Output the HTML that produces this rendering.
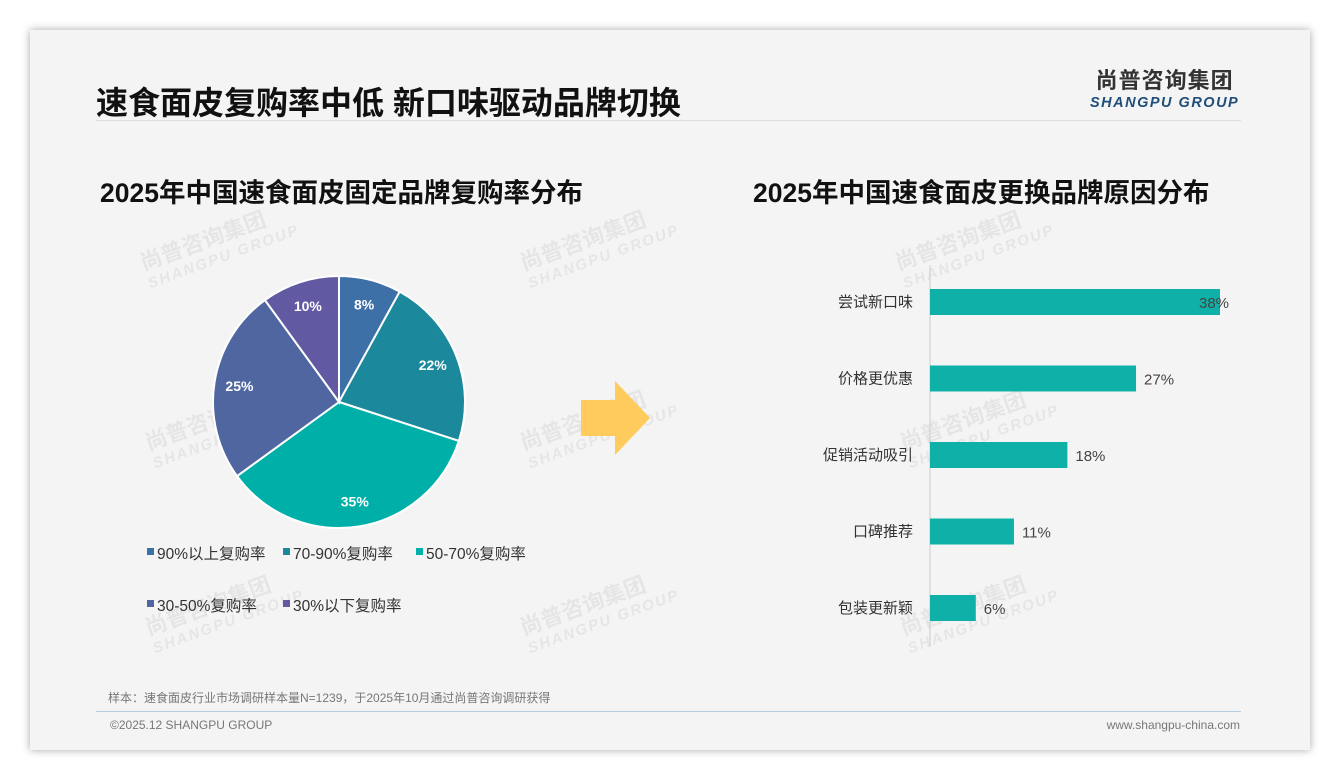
<!DOCTYPE html>
<html><head><meta charset="utf-8"><style>
body{margin:0;width:1340px;height:780px;background:#fff;position:relative;overflow:hidden;font-family:"Liberation Sans","Noto Sans CJK SC",sans-serif}
.slide{position:absolute;left:30px;top:30px;width:1280px;height:720px;background:#f4f4f4;box-shadow:0 0 8px rgba(0,0,0,.35)}
.abs{position:absolute}
.wm{position:absolute;color:rgba(0,0,0,.06);font-weight:bold;transform:rotate(-20deg);font-size:22px;line-height:22px}
.wm small{display:block;font-size:15px;letter-spacing:2px;font-style:italic}
</style></head><body>
<div class="slide">
<div class="abs" style="left:66px;top:48px;font-size:32px;font-weight:bold;color:#111">速食面皮复购率中低 新口味驱动品牌切换</div>
<div class="abs" style="left:1060px;top:33px;text-align:center;color:#333">
<div style="font-size:22px;font-weight:bold;letter-spacing:1px">尚普咨询集团</div>
<div style="font-size:14.5px;font-weight:bold;font-style:italic;color:#1f4e79;letter-spacing:1.5px">SHANGPU GROUP</div></div>
<div class="abs" style="left:66px;top:90px;width:1145px;height:1px;background:#ddd"></div>
<div class="abs" style="left:70px;top:141px;font-size:26.5px;font-weight:bold;color:#111">2025年中国速食面皮固定品牌复购率分布</div>
<div class="abs" style="left:723px;top:141px;font-size:26.5px;font-weight:bold;color:#111">2025年中国速食面皮更换品牌原因分布</div>
<div class="wm" style="left:110px;top:195px">尚普咨询集团<small>SHANGPU GROUP</small></div>
<div class="wm" style="left:490px;top:195px">尚普咨询集团<small>SHANGPU GROUP</small></div>
<div class="wm" style="left:865px;top:195px">尚普咨询集团<small>SHANGPU GROUP</small></div>
<div class="wm" style="left:115px;top:375px">尚普咨询集团<small>SHANGPU GROUP</small></div>
<div class="wm" style="left:490px;top:375px">尚普咨询集团<small>SHANGPU GROUP</small></div>
<div class="wm" style="left:870px;top:375px">尚普咨询集团<small>SHANGPU GROUP</small></div>
<div class="wm" style="left:115px;top:560px">尚普咨询集团<small>SHANGPU GROUP</small></div>
<div class="wm" style="left:490px;top:560px">尚普咨询集团<small>SHANGPU GROUP</small></div>
<div class="wm" style="left:870px;top:560px">尚普咨询集团<small>SHANGPU GROUP</small></div>
<div class="abs" style="left:78px;top:659px;font-size:12px;color:#777">样本：速食面皮行业市场调研样本量N=1239，于2025年10月通过尚普咨询调研获得</div>
<div class="abs" style="left:66px;top:681px;width:1145px;height:1px;background:#b7cde0"></div>
<div class="abs" style="left:80px;top:688px;font-size:12px;color:#777">©2025.12 SHANGPU GROUP</div>
<div class="abs" style="right:70px;top:688px;font-size:12px;color:#777">www.shangpu-china.com</div>
</div>
<svg id="chart" width="1340" height="780" style="position:absolute;left:0;top:0"></svg>
<script>
const pieLabels=["90%以上复购率","70-90%复购率","50-70%复购率","30-50%复购率","30%以下复购率"];
const pieValues=[8,22,35,25,10];
const pieColors=["#3d70a6","#1b889c","#00b0a8","#4f66a0","#6259a3"];
const barCats=["尝试新口味","价格更优惠","促销活动吸引","口碑推荐","包装更新颖"];
const barValues=[38,27,18,11,6];
const NS="http://www.w3.org/2000/svg";
const svg=document.getElementById('chart');
function mk(t,a,p){const e=document.createElementNS(NS,t);for(const k in a)e.setAttribute(k,a[k]);(p||svg).appendChild(e);return e;}
const cx=339,cy=402,r=126;const tot=pieValues.reduce((a,b)=>a+b,0);
let ang=-Math.PI/2;
pieValues.forEach((v,i)=>{
 const a2=ang+v/tot*2*Math.PI;
 const x1=cx+r*Math.cos(ang),y1=cy+r*Math.sin(ang),x2=cx+r*Math.cos(a2),y2=cy+r*Math.sin(a2);
 const p=mk('path',{d:`M${cx},${cy}L${x1},${y1}A${r},${r} 0 ${a2-ang>Math.PI?1:0} 1 ${x2},${y2}Z`,fill:pieColors[i],stroke:'#fff','stroke-width':2});
 
 
 const m=(ang+a2)/2,lr=r*0.8;
 const t=mk('text',{x:cx+lr*Math.cos(m),y:cy+lr*Math.sin(m)+5,'text-anchor':'middle',fill:'#fff','font-size':14,'font-weight':'bold'});
 t.textContent=v+'%';
 
 
 ang=a2;
});
const lpos=[[147,553],[283,553],[416,553],[147,605],[283,605]];
pieLabels.forEach((l,i)=>{
 const g=mk('g',{});
 
 
 mk('rect',{x:lpos[i][0],y:lpos[i][1]-5,width:7,height:7,fill:pieColors[i]},g);
 const t=mk('text',{x:lpos[i][0]+10,y:lpos[i][1]+6,'font-size':15.5,fill:'#333'},g);t.textContent=l;
});
const ar=mk('path',{d:'M581,400H615V381L650,418L615,455V436H581Z',fill:'#fecb5c'});


const x0=930,sc=290/38,y0=302,step=76.5,bh=26;
const ax=mk('line',{x1:x0,y1:265,x2:x0,y2:647,stroke:'#ccc'});


barCats.forEach((c,i)=>{
 const y=y0+i*step;
 const b=mk('rect',{x:x0,y:y-bh/2,width:barValues[i]*sc,height:bh,fill:'#0fb0a8'});
 
 
 const t=mk('text',{x:x0-17,y:y+5,'text-anchor':'end','font-size':15,fill:'#333'});t.textContent=c;
 
 
 const v=mk('text',{x:x0+barValues[i]*sc+(i==0?-21:8),y:y+6,'font-size':15,fill:'#444'});v.textContent=barValues[i]+'%';
 
 
});
</script>
</body></html>
